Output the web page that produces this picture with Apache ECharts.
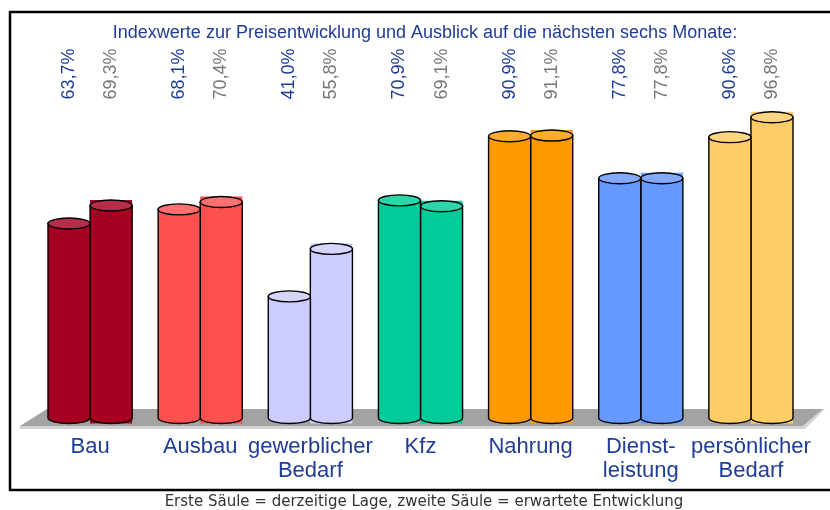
<!DOCTYPE html>
<html>
<head>
<meta charset="utf-8">
<script src="https://cdn.jsdelivr.net/npm/echarts@6/dist/echarts.min.js"></script>
<style>
  html, body { margin: 0; padding: 0; background: #fff; }
  #chart { width: 830px; height: 510px; }
</style>
</head>
<body>
<div id="chart"></div>
<script>
// Kategorien und Werte
const categories = ['Bau', 'Ausbau', 'gewerblicher\nBedarf', 'Kfz', 'Nahrung', 'Dienst-\nleistung', 'persönlicher\nBedarf']
const currentValues = [63.7, 68.1, 41.0, 70.9, 90.9, 77.8, 90.6]   // erste Säule = derzeitige Lage
const expectedValues = [69.3, 70.4, 55.8, 69.1, 91.1, 77.8, 96.8]  // zweite Säule = erwartete Entwicklung
const barColors = ['#A50021', '#FF5050', '#CCCCFF', '#00CC99', '#FF9900', '#6699FF', '#FFCC66']

const titleText = 'Indexwerte zur Preisentwicklung und Ausblick auf die nächsten sechs Monate:'
const footerText = 'Erste Säule = derzeitige Lage, zweite Säule = erwartete Entwicklung'

const blue = '#1F3C96'
const grey = '#777777'
const lift = 10   // Abstand Säulenboden über der Nulllinie (3D-Boden)
const ry = 5.5    // Halbachse der Ellipsen

const fmt = v => v.toFixed(1).replace('.', ',') + '%'

const lighten = (hex, t) => {
	const n = parseInt(hex.slice(1), 16)
	const r = (n >> 16) & 255, g = (n >> 8) & 255, b = n & 255
	const m = c => Math.round(c + (255 - c) * t)
	return 'rgb(' + m(r) + ',' + m(g) + ',' + m(b) + ')'
}

const makeRender = (side, labelColor) => (params, api) => {
	const i = api.value(0)
	const v = api.value(1)
	const band = api.size([1, 0])[0]
	const w = band * 0.382
	const cx = api.coord([i, 0])[0] + side * w / 2
	const l = cx - w / 2
	const r = cx + w / 2
	const top = api.coord([i, v])[1]
	const base = api.coord([i, 0])[1] - lift
	const labelY = api.coord([i, 100])[1] - 33
	const color = barColors[i]
	const children = []
	if (side > 0) {
		// Hintergrundrechteck der zweiten Säule
		children.push({
			type: 'rect',
			shape: { x: l, y: top - ry, width: w, height: base - top + 2 * ry },
			style: { fill: color }
		})
	}
	children.push({
		type: 'path',
		shape: { pathData: `M${l},${top} L${l},${base} A${w / 2},${ry} 0 0 0 ${r},${base} L${r},${top} Z` },
		style: { fill: color, stroke: '#000', lineWidth: 1.4 }
	})
	children.push({
		type: 'path',
		shape: { pathData: `M${l},${top} A${w / 2},${ry} 0 1 0 ${r},${top} A${w / 2},${ry} 0 1 0 ${l},${top} Z` },
		style: { fill: lighten(color, 0.18), stroke: '#000', lineWidth: 1.4 }
	})
	children.push({
		type: 'text',
		x: cx,
		y: labelY,
		rotation: Math.PI / 2,
		style: {
			text: fmt(v),
			fill: labelColor,
			font: '18px "Liberation Sans", Arial, sans-serif',
			align: 'center',
			verticalAlign: 'middle'
		}
	})
	return { type: 'group', children }
}

const chart = echarts.init(document.getElementById('chart'))

chart.setOption({
	backgroundColor: '#fff',
	animation: false,
	title: {
		text: titleText,
		left: 420,
		top: 19,
		textAlign: 'center',
		textStyle: { color: blue, fontSize: 18, fontWeight: 'normal', fontFamily: 'Liberation Sans' }
	},
	grid: { left: 35, right: 24, top: 107, bottom: 82, outerBoundsMode: 'none' },
	xAxis: {
		type: 'category',
		data: categories,
		axisLine: { show: false },
		axisTick: { show: false },
		axisLabel: {
			interval: 0,
			color: blue,
			fontSize: 22,
			lineHeight: 24,
			margin: 7,
			fontFamily: 'Liberation Sans'
		}
	},
	yAxis: {
		type: 'value',
		min: 0,
		max: 100,
		show: false,
		splitLine: { show: false }
	},
	graphic: [
		{
			type: 'rect',
			shape: { x: 10, y: 12, width: 840, height: 478 },
			style: { fill: 'none', stroke: '#000', lineWidth: 2.5 },
			z: 0
		},
		{
			type: 'polygon',
			shape: { points: [[47, 409], [823, 409], [803, 426], [20, 426]] },
			style: { fill: '#A3A3A3' },
			z: 0
		},
		{
			type: 'polygon',
			shape: { points: [[20, 426], [803, 426], [823, 409], [825, 409], [805, 429], [20, 429]] },
			style: { fill: '#D2D2D2' },
			z: 0
		},
		{
			type: 'text',
			x: 424,
			y: 502,
			style: {
				text: footerText,
				fill: '#333',
				font: '15px "DejaVu Sans", sans-serif',
				align: 'center',
				verticalAlign: 'middle'
			}
		}
	],
	series: [
		{
			name: 'derzeitige Lage',
			type: 'custom',
			renderItem: makeRender(-1, blue),
			data: currentValues.map((v, i) => [i, v]),
			z: 3
		},
		{
			name: 'erwartete Entwicklung',
			type: 'custom',
			renderItem: makeRender(1, grey),
			data: expectedValues.map((v, i) => [i, v]),
			z: 2
		}
	]
})
</script>
</body>
</html>
